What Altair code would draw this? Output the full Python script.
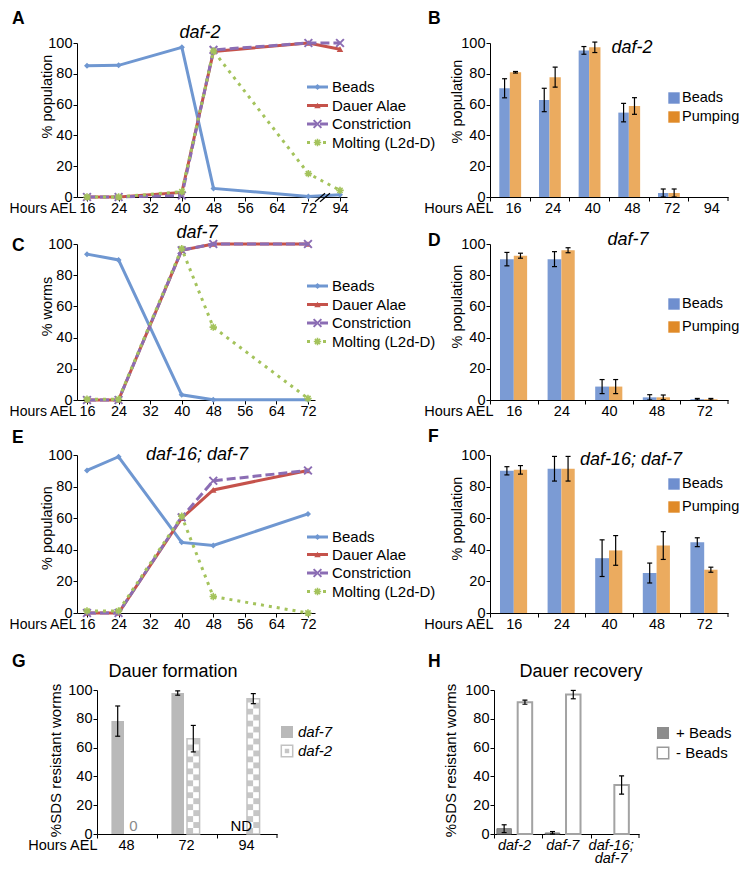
import json
import altair as alt
import pandas as pd

FONT = "Liberation Sans"

# ======================= data =======================
series = ["Beads", "Dauer Alae", "Constriction", "Molting (L2d-D)"]

# A: daf-2 time course (94 h is drawn after an axis break)
a_hours = [16, 24, 40, 48, 72, 94]
a_beads = [85.3, 85.5, 97.2, 5.6, 0.4, 1.5]
a_alae = [0.0, 0.0, 3.0, 94.5, 100.0, 96.0]
a_constr = [0.0, 0.0, 1.0, 95.5, 100.0, 100.0]
a_molt = [0.0, 0.0, 3.5, 94.8, 15.2, 4.3]
a_ticks = [16, 24, 32, 40, 48, 56, 64, 72, 94]

# C: daf-7 time course
c_hours = [16, 24, 40, 48, 72]
c_beads = [93.5, 89.8, 3.3, 0.2, 0.2]
c_alae = [0.0, 0.0, 96.0, 100.0, 100.0]
c_constr = [0.0, 0.0, 96.0, 100.0, 100.0]
c_molt = [0.5, 0.5, 97.0, 46.7, 1.0]
ce_ticks = [16, 24, 32, 40, 48, 56, 64, 72]

# E: daf-16; daf-7 time course
e_hours = [16, 24, 40, 48, 72]
e_beads = [90.2, 98.9, 44.7, 42.7, 62.7]
e_alae = [0.0, 0.0, 60.0, 77.9, 90.2]
e_constr = [0.0, 0.0, 60.5, 83.7, 90.2]
e_molt = [1.3, 1.3, 61.2, 10.4, 0.0]

# B: daf-2 beads / pumping
b_hours = ["16", "24", "40", "48", "72", "94"]
b_beads = [70.6, 63.0, 95.2, 54.8, 2.6, 0.0]
b_beads_err = [6.2, 7.6, 2.5, 6.0, 2.6, 0.0]
b_pump = [81.0, 77.8, 97.2, 59.1, 2.6, 0.0]
b_pump_err = [0.5, 6.5, 3.4, 5.4, 2.6, 0.0]

# D: daf-7 beads / pumping
d_hours = ["16", "24", "40", "48", "72"]
d_beads = [90.3, 90.3, 8.6, 1.7, 0.5]
d_beads_err = [4.3, 4.8, 4.5, 1.7, 0.5]
d_pump = [92.5, 96.0, 8.6, 1.7, 0.5]
d_pump_err = [1.6, 1.6, 4.5, 1.5, 0.5]

# F: daf-16; daf-7 beads / pumping
f_hours = ["16", "24", "40", "48", "72"]
f_beads = [90.0, 91.3, 34.7, 25.3, 44.8]
f_beads_err = [2.6, 7.8, 11.6, 6.3, 2.8]
f_pump = [90.6, 91.3, 39.6, 42.7, 27.4]
f_pump_err = [2.7, 7.8, 9.4, 8.8, 1.6]

# G: dauer formation (SDS resistance)
g_hours = ["48", "72", "94"]
g_daf7 = [78.4, 97.9, None]
g_daf7_err = [10.5, 1.5, None]
g_daf2 = [0.0, 66.2, 94.0]
g_daf2_err = [None, 9.2, 3.5]
g_daf7_note = ["", "", "ND"]
g_daf2_note = ["0", "", ""]

# H: dauer recovery
h_strains = ["daf-2", "daf-7", ["daf-16;", "daf-7"]]
h_plus = [3.7, 0.7, 0.0]
h_plus_err = [2.7, 1.0, 0.0]
h_minus = [91.5, 96.8, 34.0]
h_minus_err = [1.4, 2.9, 6.3]

# ======================= styles =======================
XSHAPE = "M-1,-1L1,1M-1,1L1,-1"
ASTER = "M-1,0L1,0M0,-1L0,1M-0.7,-0.7L0.7,0.7M-0.7,0.7L0.7,-0.7"
LSTYLE = {
    "Beads": dict(color="#6f97d1", dash=None, shape="diamond", filled=True, size=36, sw=1),
    "Dauer Alae": dict(color="#c5524b", dash=None, shape="triangle-up", filled=True, size=42, sw=1),
    "Constriction": dict(color="#8b6db4", dash=[9, 4], shape=XSHAPE, filled=False, size=60, sw=2),
    "Molting (L2d-D)": dict(color="#a4c35c", dash=[3, 5], shape=ASTER, filled=False, size=55, sw=1.6),
}
BEADS_C, PUMP_C = "#7b9bd4", "#ebab5f"
BEADS_L, PUMP_L = "#6f8fcf", "#e08a28"
Y_TICKS = [0, 20, 40, 60, 80, 100]


def brk(h):
    # broken time axis: everything after 72 h sits one tick step later
    return h if h <= 72 else 80


def yaxis(title, tx, ty, tsize=14.5):
    return alt.Axis(values=Y_TICKS, title=title, titleX=tx, titleY=ty, titleAngle=-90,
                    titleAlign="center", titleBaseline="middle", titleFontSize=tsize,
                    titleFontWeight="normal", labelFontSize=14.5, labelPadding=1, tickSize=4,
                    labelFlush=False, labelOverlap=False)


def text_layer(label, x, y, size=15, align="left", baseline="middle", weight="normal",
               style="normal", color="black"):
    return alt.Chart(pd.DataFrame({"label": [label]})).mark_text(
        align=align, baseline=baseline, fontSize=size, fontWeight=weight, fontStyle=style,
        color=color, font=FONT).encode(x=alt.value(x), y=alt.value(y), text="label:N")


def square_layer(x, y, fill, size=130, stroke=None, sw=0):
    kw = dict(shape="square", size=size, filled=True, color=fill, opacity=1)
    if stroke:
        kw.update(stroke=stroke, strokeWidth=sw)
    return alt.Chart(pd.DataFrame({"a": [0]})).mark_point(**kw).encode(
        x=alt.value(x), y=alt.value(y))


def frame_layer(top, bottom=None, left=None):
    # invisible extent markers that fix each row's layout box
    out = [alt.Chart(pd.DataFrame({"a": [0]})).mark_rule(opacity=0, strokeOpacity=0).encode(
        x=alt.value(0), y=alt.value(-top), y2=alt.value(bottom if bottom is not None else 0))]
    if left is not None:
        out.append(alt.Chart(pd.DataFrame({"a": [0]})).mark_rule(
            opacity=0, strokeOpacity=0).encode(x=alt.value(-left), x2=alt.value(0),
                                               y=alt.value(0)))
    return out


def line_panel(hours, cols, ticks, xmax, width, height, title, title_xy, letter, letter_xy,
               ytitle, ytitle_xy, leg_y, frame, breaks=False):
    xs = alt.Scale(domain=[13.47, xmax], nice=False, zero=False)
    ys = alt.Scale(domain=[0, 100], nice=False, zero=False)
    xa = alt.Axis(values=[brk(t) for t in ticks],
                  labelExpr="datum.value == 80 ? '94' : datum.label",
                  title="Hours AEL", titleX=-1, titleY=4, titleAlign="right",
                  titleBaseline="top", titleAngle=0, titleFontSize=14, titleFontWeight="normal",
                  labelFontSize=14.5, labelPadding=0, tickSize=4, labelFlush=False,
                  labelOverlap=False, labelAngle=0)
    ya = yaxis(ytitle, *ytitle_xy)
    X = alt.X("pos:Q", scale=xs, axis=xa)
    Y = alt.Y("val:Q", scale=ys, axis=ya)
    pos = [brk(h) for h in hours]
    layers = []
    for s in series:
        st = LSTYLE[s]
        df = pd.DataFrame({"pos": pos, "val": cols[s]})
        lkw = dict(color=st["color"], strokeWidth=3)
        if st["dash"]:
            lkw["strokeDash"] = st["dash"]
        layers.append(alt.Chart(df).mark_line(**lkw).encode(x=X, y=Y))
        layers.append(alt.Chart(df).mark_point(
            shape=st["shape"], filled=st["filled"], size=st["size"], color=st["color"],
            opacity=1, strokeWidth=st["sw"]).encode(x=X, y=Y))
    if breaks:
        bdf = pd.DataFrame({"x0": [73.7, 74.95], "x1": [76.2, 77.45]})
        layers.append(alt.Chart(bdf).mark_rule(color="black", strokeWidth=1.2).encode(
            x=alt.X("x0:Q", scale=xs, axis=xa), x2=alt.X2("x1"),
            y=alt.value(height + 4.7), y2=alt.value(height - 3.7)))
    # legend
    for i, s in enumerate(series):
        st = LSTYLE[s]
        ly = leg_y[i]
        rkw = dict(color=st["color"], strokeWidth=3)
        if st["dash"]:
            rkw["strokeDash"] = st["dash"]
        layers.append(alt.Chart(pd.DataFrame({"a": [0]})).mark_rule(**rkw).encode(
            x=alt.value(230), x2=alt.value(251), y=alt.value(ly)))
        layers.append(alt.Chart(pd.DataFrame({"a": [0]})).mark_point(
            shape=st["shape"], filled=st["filled"], size=st["size"], color=st["color"],
            opacity=1, strokeWidth=st["sw"]).encode(x=alt.value(240.5), y=alt.value(ly)))
        layers.append(text_layer(s, 255, ly))
    layers.append(text_layer(title, title_xy[0], title_xy[1], size=18, align="center",
                             baseline="alphabetic", style="italic"))
    layers.append(text_layer(letter, letter_xy[0], letter_xy[1], size=17.5, weight="bold",
                             baseline="top"))
    layers += frame
    return alt.layer(*layers).properties(width=width, height=height)


def band_xaxis(labels, offset, title=None, title_x=0, italic=False, line_height=None):
    # ticks sit on the group boundaries; labels are shifted to the group centres
    expr = json.dumps(list(labels)) + "[datum.value]"
    kw = dict(values=list(range(len(labels))), labelExpr=expr, labelOffset=offset,
              labelFlush=False, labelOverlap=False, labelAngle=0, labelFontSize=14.5,
              labelPadding=0, tickSize=4, labelBound=False)
    if title:
        kw.update(title=title, titleX=title_x, titleY=4, titleAlign="right",
                  titleBaseline="top", titleAngle=0, titleFontSize=14.5,
                  titleFontWeight="normal")
    else:
        kw["title"] = None
    if italic:
        kw["labelFontStyle"] = "italic"
    if line_height:
        kw["labelLineHeight"] = line_height
    return alt.Axis(**kw)


def end_tick(n, XF, height):
    return alt.Chart(pd.DataFrame({"xe": [n]})).mark_rule(color="black", strokeWidth=1).encode(
        x=XF("xe"), y=alt.value(height), y2=alt.value(height + 4))


def bar_rows(vals, errs, i_off, color):
    rows = []
    for i, (v, e) in enumerate(zip(vals, errs)):
        if v is None:
            continue
        x0, x1 = i + i_off[0], i + i_off[1]
        ee = e if e is not None else 0.0
        rows.append(dict(x0=x0, x1=x1, xc=(x0 + x1) / 2, val=v, zero=0.0,
                         lo=max(v - ee, 0.0), hi=v + ee, err=ee, col=color))
    return rows


def errbar_layers(df, XF, YF):
    e = df[df["err"] > 0]
    return [
        alt.Chart(e).mark_rule(color="black", strokeWidth=1.2).encode(
            x=XF("xc"), y=YF("lo"), y2=alt.Y2("hi")),
        alt.Chart(e).mark_tick(orient="horizontal", color="black", size=5, thickness=1.2,
                               opacity=1).encode(x=XF("xc"), y=YF("hi")),
        alt.Chart(e).mark_tick(orient="horizontal", color="black", size=5, thickness=1.2,
                               opacity=1).encode(x=XF("xc"), y=YF("lo")),
    ]


def pair_panel(hours, beads, beads_err, pump, pump_err, width, height, offs, label_off,
               title, title_xy, letter, letter_xy, ytitle_xy, leg_y):
    n = len(hours)
    xs = alt.Scale(domain=[0, n], nice=False, zero=False)
    ys = alt.Scale(domain=[0, 100], nice=False, zero=False)
    xa = band_xaxis(hours, label_off, title="Hours AEL", title_x=3)
    ya = yaxis("% population", *ytitle_xy)

    def XF(f):
        return alt.X(f + ":Q", scale=xs, axis=xa)

    def YF(f):
        return alt.Y(f + ":Q", scale=ys, axis=ya)

    df = pd.DataFrame(bar_rows(beads, beads_err, offs[0], BEADS_C) +
                      bar_rows(pump, pump_err, offs[1], PUMP_C))
    layers = [alt.Chart(df).mark_rect().encode(
        x=XF("x0"), x2=alt.X2("x1"), y=YF("val"), y2=alt.Y2("zero"),
        color=alt.Color("col:N", scale=None))]
    layers += errbar_layers(df, XF, YF)
    layers.append(end_tick(n, XF, height))
    for (name, col), ly in zip([("Beads", BEADS_L), ("Pumping", PUMP_L)], leg_y):
        layers.append(square_layer(184, ly, col))
        layers.append(text_layer(name, 192, ly, size=14.5))
    layers.append(text_layer(title, title_xy[0], title_xy[1], size=18, align="center",
                             baseline="alphabetic", style="italic"))
    layers.append(text_layer(letter, letter_xy[0], letter_xy[1], size=17.5, weight="bold",
                             baseline="top"))
    return alt.layer(*layers).properties(width=width, height=height)


# ======================= panels =======================
A = line_panel(a_hours, {"Beads": a_beads, "Dauer Alae": a_alae, "Constriction": a_constr,
                         "Molting (L2d-D)": a_molt},
               a_ticks, 81.77, 270, 154, "daf-2", (123, -5), "A", (-65, -33),
               "% population", (-30, 53), [44, 62.5, 81, 99.5],
               frame_layer(35, 154 + 22, left=69), breaks=True)
C = line_panel(c_hours, {"Beads": c_beads, "Dauer Alae": c_alae, "Constriction": c_constr,
                         "Molting (L2d-D)": c_molt},
               ce_ticks, 73.78, 238, 156, "daf-7", (120, -6), "C", (-65, -7),
               "% worms", (-30, 62), [42, 60.5, 79, 97.5], frame_layer(25, 156 + 22))
E = line_panel(e_hours, {"Beads": e_beads, "Dauer Alae": e_alae, "Constriction": e_constr,
                         "Molting (L2d-D)": e_molt},
               ce_ticks, 73.78, 238, 158, "daf-16; daf-7", (120, 5), "E", (-65, -26),
               "% population", (-30, 72.5), [82, 99.5, 118, 136.5], frame_layer(33, 158 + 22))

B = pair_panel(b_hours, b_beads, b_beads_err, b_pump, b_pump_err, 238, 154,
               [(0.235, 0.5), (0.5, 0.785)], 23, "daf-2", (142, 10), "B", (-62, -33),
               (-33, 58), [55, 74])
D = pair_panel(d_hours, d_beads, d_beads_err, d_pump, d_pump_err, 238, 156,
               [(0.21, 0.5), (0.5, 0.78)], 23.8, "daf-7", (138, 1), "D", (-62, -12),
               (-33, 62), [60, 83])
F = pair_panel(f_hours, f_beads, f_beads_err, f_pump, f_pump_err, 238, 158,
               [(0.21, 0.5), (0.5, 0.78)], 23.8, "daf-16; daf-7", (141, 10), "F",
               (-62, -27), (-33, 63), [29, 52])

# ---- G: dauer formation ----
G_W, G_H = 180, 144
gxs = alt.Scale(domain=[0, 3], nice=False, zero=False)
gys = alt.Scale(domain=[0, 100], nice=False, zero=False)
gxa = band_xaxis(g_hours, 29, title="Hours AEL", title_x=0)
gya = yaxis("%SDS resistant worms", -41.5, 70, tsize=15)


def GX(f):
    return alt.X(f + ":Q", scale=gxs, axis=gxa)


def GY(f):
    return alt.Y(f + ":Q", scale=gys, axis=gya)


G7_OFF, G2_OFF = (0.24, 0.45), (0.50, 0.71)
g7 = pd.DataFrame(bar_rows(g_daf7, g_daf7_err, G7_OFF, "#b9b9b9"))
g2 = pd.DataFrame(bar_rows(g_daf2, g_daf2_err, G2_OFF, "#c8c8c8"))
g2 = g2[g2["val"] > 0]

# checkered fill for the daf-2 bars, cut from each bar's own value
CELL = 4.15  # cell height in % units
cells = []
for _, r in g2.iterrows():
    half = (r["x1"] - r["x0"]) / 2
    k = 0
    while k * CELL < r["val"]:
        for c in range(2):
            cells.append(dict(x0=r["x0"] + c * half, x1=r["x0"] + (c + 1) * half,
                              y0=k * CELL, y1=min((k + 1) * CELL, r["val"]),
                              col="#c6c6c6" if (k + c) % 2 == 0 else "#ffffff"))
        k += 1
cells = pd.DataFrame(cells)

notes = []
for i, t in enumerate(g_daf2_note):
    if t:
        notes.append(dict(x=i + sum(G2_OFF) / 2, y=0.0, t=t, col="#8a8a8a"))
for i, t in enumerate(g_daf7_note):
    if t:
        notes.append(dict(x=i + sum(G7_OFF) / 2 + 0.06, y=0.0, t=t, col="#000000"))
notes = pd.DataFrame(notes)

g_layers = [
    alt.Chart(g7).mark_rect().encode(x=GX("x0"), x2=alt.X2("x1"), y=GY("val"),
                                     y2=alt.Y2("zero"), color=alt.Color("col:N", scale=None)),
    alt.Chart(cells).mark_rect().encode(x=GX("x0"), x2=alt.X2("x1"), y=GY("y1"),
                                        y2=alt.Y2("y0"), color=alt.Color("col:N", scale=None)),
    alt.Chart(g2).mark_rect(fillOpacity=0, stroke="#c2c2c2", strokeWidth=1.5).encode(
        x=GX("x0"), x2=alt.X2("x1"), y=GY("val"), y2=alt.Y2("zero")),
]
g_layers += errbar_layers(g7, GX, GY)
g_layers += errbar_layers(g2, GX, GY)
g_layers.append(end_tick(3, GX, G_H))
g_layers.append(alt.Chart(notes).mark_text(fontSize=15, baseline="alphabetic", dy=-3,
                                           font=FONT).encode(
    x=GX("x"), y=GY("y"), text="t:N", color=alt.Color("col:N", scale=None)))
g_layers += [
    square_layer(190, 42, "#b9b9b9", size=144),
    text_layer("daf-7", 201, 42, style="italic"),
    square_layer(190, 61, "#ffffff", size=130, stroke="#c2c2c2", sw=1.5),
    square_layer(190, 61, "#c6c6c6", size=20),
    text_layer("daf-2", 201, 61, style="italic"),
    text_layer("Dauer formation", 76, -13, size=18, align="center", baseline="alphabetic"),
    text_layer("G", -85, -37, size=17.5, weight="bold", baseline="top"),
]
g_layers += frame_layer(55)
G = alt.layer(*g_layers).properties(width=G_W, height=G_H)

# ---- H: dauer recovery ----
H_W, H_H = 145, 144
hxs = alt.Scale(domain=[0, 3], nice=False, zero=False)
hys = alt.Scale(domain=[0, 100], nice=False, zero=False)
hxa = band_xaxis(h_strains, 20, title=None, italic=True, line_height=13.5)
hya = yaxis("%SDS resistant worms", -44, 70, tsize=15)


def HX(f):
    return alt.X(f + ":Q", scale=hxs, axis=hxa)


def HY(f):
    return alt.Y(f + ":Q", scale=hys, axis=hya)


hp = pd.DataFrame(bar_rows(h_plus, h_plus_err, (0.06, 0.36), "#8d8d8d"))
hm = pd.DataFrame(bar_rows(h_minus, h_minus_err, (0.49, 0.79), "#ffffff"))
h_layers = [
    alt.Chart(hp[hp["val"] > 0]).mark_rect(stroke="#7a7a7a", strokeWidth=1).encode(
        x=HX("x0"), x2=alt.X2("x1"), y=HY("val"), y2=alt.Y2("zero"),
        color=alt.Color("col:N", scale=None)),
    alt.Chart(hm).mark_rect(stroke="#a3a3a3", strokeWidth=2).encode(
        x=HX("x0"), x2=alt.X2("x1"), y=HY("val"), y2=alt.Y2("zero"),
        color=alt.Color("col:N", scale=None)),
]
h_layers += errbar_layers(hp, HX, HY)
h_layers += errbar_layers(hm, HX, HY)
h_layers.append(end_tick(3, HX, H_H))
h_layers += [
    square_layer(169, 43, "#8d8d8d", size=144),
    text_layer("+ Beads", 182, 43),
    square_layer(169, 63, "#ffffff", size=130, stroke="#9a9a9a", sw=1.5),
    text_layer("- Beads", 182, 63),
    text_layer("Dauer recovery", 87, -13, size=18, align="center", baseline="alphabetic"),
    text_layer("H", -66, -37, size=17.5, weight="bold", baseline="top"),
]
H = alt.layer(*h_layers).properties(width=H_W, height=H_H)


def spacer(w, h):
    return alt.Chart(pd.DataFrame({"a": [0]})).mark_point(opacity=0).encode(
        x=alt.value(0), y=alt.value(0)).properties(width=w, height=h)


row1 = alt.hconcat(A, B, spacing=143, bounds="flush")
row2 = alt.hconcat(C, D, spacing=175, bounds="flush")
row3 = alt.hconcat(E, F, spacing=175, bounds="flush")
row4 = alt.hconcat(spacer(20, G_H), G, spacer(217, G_H), H, spacing=0, bounds="flush")

chart = alt.vconcat(row1, row2, row3, row4, spacing=0).properties(padding=0)

chart = chart.configure(font=FONT).configure_view(stroke=None).configure_axis(
    domainColor="black", tickColor="black", labelColor="black", titleColor="black",
    grid=False, domainWidth=1, tickWidth=1, labelFont=FONT, titleFont=FONT)

chart.save("out.html", embed_options={"renderer": "svg", "actions": False})
